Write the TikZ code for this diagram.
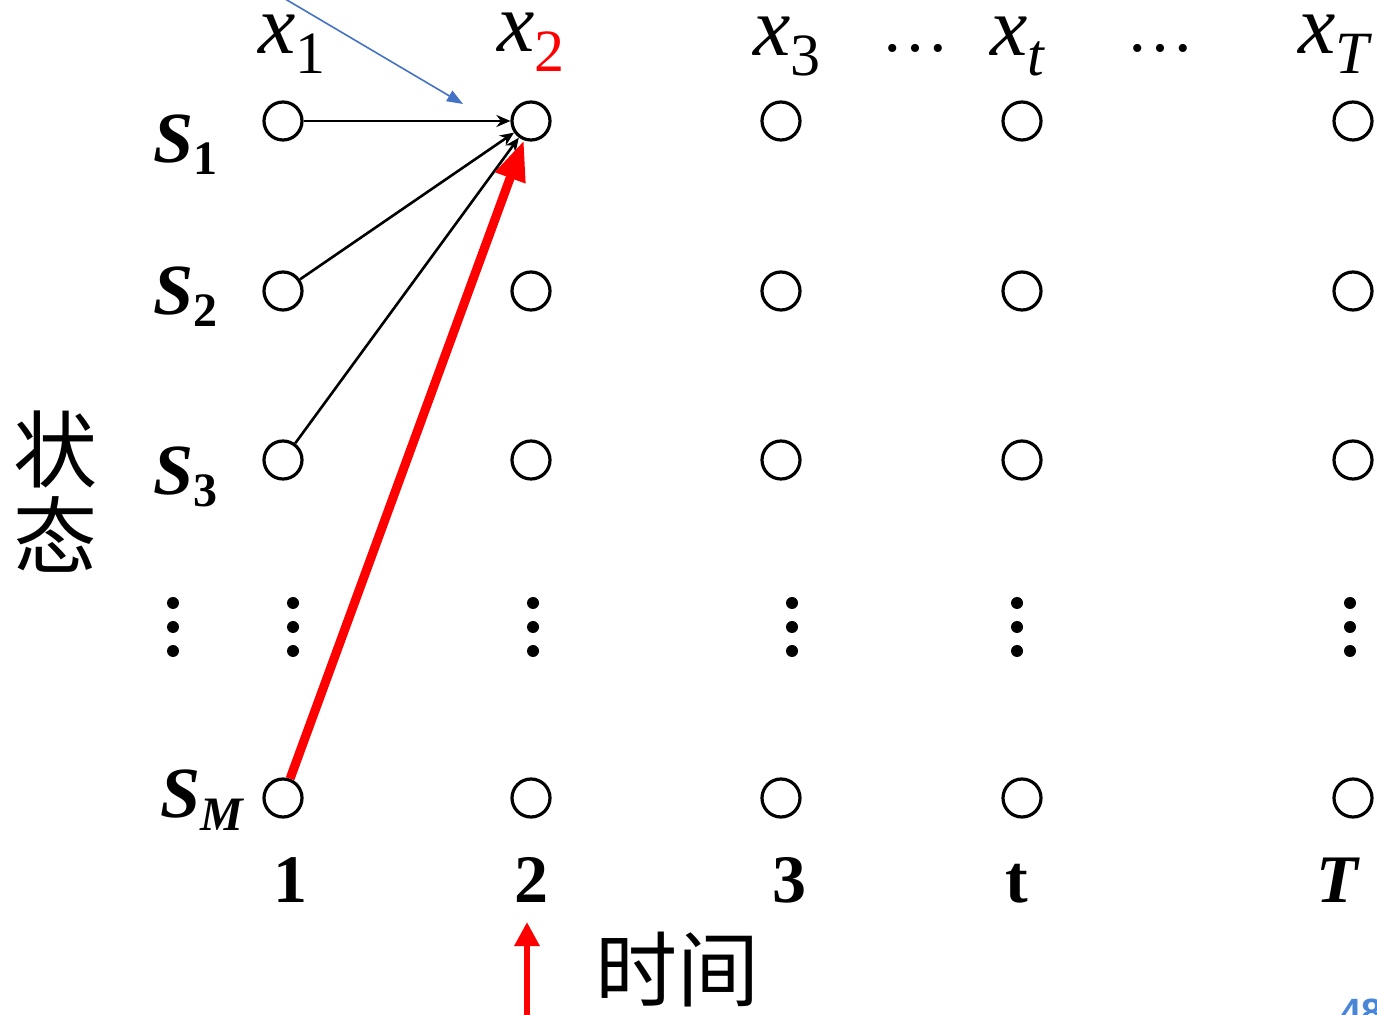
\documentclass[tikz,border=0pt]{standalone}
\usepackage{fontspec}
\setmainfont{Liberation Serif}
\newfontfamily\cjk{Noto Sans CJK SC}
\newfontfamily\pagefont{Liberation Sans}
\usetikzlibrary{arrows.meta,positioning}

\definecolor{linkblue}{RGB}{68,114,196}
\definecolor{pageblue}{RGB}{74,134,214}

% observation label x_i above each column
\newcommand{\obs}[1]{\fontsize{42pt}{42pt}\selectfont\textit{x}\raisebox{-10pt}{\fontsize{30pt}{30pt}\selectfont #1}}
% state label S_i in front of each row
\newcommand{\st}[1]{\fontsize{36pt}{36pt}\selectfont\textbf{\textit{S}}\raisebox{-6pt}{\fontsize{24pt}{24pt}\selectfont\textbf{#1}}}

\begin{document}
\begin{tikzpicture}[x=0.5pt, y=-0.5pt,
    state node/.style={circle, draw, line width=1.6pt, minimum size=19pt, inner sep=0pt},
    lbl/.style={inner sep=0pt, anchor=base west},
    gap/.style={inner sep=0pt, anchor=base, font=\fontsize{34pt}{34pt}\selectfont},
    tick/.style={inner sep=0pt, anchor=base, font=\fontsize{34pt}{34pt}\selectfont\bfseries},
    trans/.style={-{Stealth[length=7pt, width=6pt]}, line width=1.3pt},
    best/.style={-{Triangle[length=20pt, width=15pt]}, line width=4.5pt, red}]
    \useasboundingbox (0,0) rectangle (1377,1015);

    % trellis of states over time
    \foreach \c/\xx in {1/283, 2/531, 3/781, t/1022, T/1353}
        \foreach \r/\yy in {1/121, 2/291, 3/460, M/798}
            \node[state node] (n\c-\r) at (\xx,\yy) {};

    % vertical ellipses between S3 and SM
    \foreach \xx in {173, 293, 533, 792, 1017, 1350}
        \foreach \yy in {603, 627, 651}
            \fill (\xx,\yy) circle (3pt);

    % observations
    \node[lbl] (o1) at (258,54) {\obs{1}};
    \node[lbl] (o2) at (497,52) {\obs{\textcolor{red}{2}}};
    \node[lbl] (o3) at (753,56) {\obs{3}};
    \node[gap] (dots1) at (915,52) {\dots};
    \node[lbl] (ot) at (990,56) {\obs{\textit{t}}};
    \node[gap] (dots2) at (1160,52) {\dots};
    \node[lbl] (oT) at (1298,54) {\obs{\textit{T}}};

    % states
    \node[lbl] (s1) at (153,163) {\st{1}};
    \node[lbl] (s2) at (153,315) {\st{2}};
    \node[lbl] (s3) at (153,495) {\st{3}};
    \node[lbl] (sM) at (160,818) {\st{\textit{M}}};
    \node[inner sep=0pt, align=center, font=\cjk\fontsize{42pt}{43pt}\selectfont] (zt) at (55,492) {状\\态};

    % time steps
    \node[tick] (t1) at (290,902) {1};
    \node[tick] (t2) at (531,902) {2};
    \node[tick] (t3) at (789,902) {3};
    \node[tick] (tt) at (1017,902) {t};
    \node[tick] (tT) at (1338,902) {\textit{T}};
    \node[inner sep=0pt, font=\cjk\fontsize{41pt}{41pt}\selectfont] (sj) at (677,970) {时间};
    \node[inner sep=0pt, anchor=base west, text=pageblue, font=\pagefont\fontsize{19pt}{19pt}\selectfont\bfseries] (pg) at (1340,1025) {48};

    % transitions into state 1 at time 2
    \draw[trans] (n1-1) -- (n2-1);
    \draw[trans] (n1-2) -- (n2-1);
    \draw[trans] (n1-3) -- (n2-1);
    \draw[best] (n1-M) -- (n2-1);

    \coordinate (b0) at (270,-10);
    \coordinate (b1) at (463,104);
    \draw[-{Triangle[length=8pt, width=6pt]}, linkblue, line width=0.8pt] (b0) -- (b1);

    \coordinate (a0) at (527,1015);
    \coordinate (a1) at (527,922);
    \draw[-{Triangle[length=12pt, width=12pt]}, red, line width=3pt] (a0) -- (a1);
\end{tikzpicture}
\end{document}
